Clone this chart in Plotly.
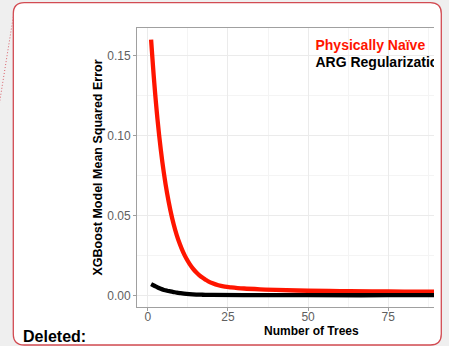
import plotly.graph_objects as go

# ---- data ----
red_trees = [1, 2, 3, 4, 5, 6, 7, 8, 9, 10, 11, 12, 13, 14, 15, 16, 17, 18, 19, 20,
             22, 24, 26, 28, 30, 35, 40, 50, 60, 70, 80, 90, 100]
red_mse = [0.160, 0.1328, 0.1102, 0.0917, 0.0765, 0.0639, 0.0536, 0.0450, 0.0379, 0.0321,
           0.0272, 0.0232, 0.0199, 0.0171, 0.0148, 0.0129, 0.0113, 0.0100, 0.0088, 0.0079,
           0.0065, 0.0057, 0.0052, 0.0048, 0.0045, 0.0040, 0.0036, 0.0031, 0.0029,
           0.0027, 0.0026, 0.0026, 0.0025]
black_trees = [1, 2, 3, 4, 5, 6, 7, 8, 9, 10, 12, 14, 17, 20, 30, 50, 75, 100]
black_mse = [0.0072, 0.0062, 0.0052, 0.0043, 0.0036, 0.0031, 0.0027, 0.0023, 0.0019,
             0.0016, 0.0011, 0.0008, 0.0006, 0.0005, 0.0004, 0.0003, 0.0003, 0.0003]
legend_labels = ["Physically Naïve", "ARG Regularizatio"]
x_ticks = [0, 25, 50, 75]
y_ticks = [0.00, 0.05, 0.10, 0.15]
y_ticklabels = ["0.00", "0.05", "0.10", "0.15"]

W, H = 449, 346
L, R, T, B = 137, 434, 28, 307
FONT = "Liberation Sans, Arial, Helvetica, sans-serif"


def px(x):
    return (x - L) / (R - L)


def py(y):
    return (B - y) / (B - T)


fig = go.Figure()
fig.add_trace(go.Scatter(x=red_trees, y=red_mse, mode="lines",
                         line=dict(color="#ff1500", width=4.3, shape="spline", smoothing=1),
                         showlegend=False))
fig.add_trace(go.Scatter(x=black_trees, y=black_mse, mode="lines",
                         line=dict(color="black", width=4.3, shape="spline", smoothing=1),
                         showlegend=False))
# legend-like labels inside the panel (clipped by the panel edge)
fig.add_trace(go.Scatter(x=[52.3, 52.3], y=[0.1556, 0.1450], mode="text",
                         text=legend_labels, textposition="middle right",
                         textfont=dict(family=FONT, size=14, color=["#ff1500", "black"],
                                       weight="bold"),
                         cliponaxis=True, showlegend=False, hoverinfo="skip"))

grid_major = "#ebebeb"
grid_minor = "#f4f4f4"
axis_col = "#a0a0a0"
fig.update_xaxes(range=[-3.4, 89.3], tickvals=x_ticks, ticktext=[str(v) for v in x_ticks],
                 showgrid=True, gridcolor=grid_major, gridwidth=1,
                 minor=dict(showgrid=True, gridcolor=grid_minor, tick0=12.5, dtick=25, ticks=""),
                 showline=True, linecolor=axis_col, linewidth=1, mirror=True,
                 ticks="outside", ticklen=3, tickcolor=axis_col, ticklabelstandoff=-4,
                 tickfont=dict(family=FONT, size=12, color="#606060"), zeroline=False)
fig.update_yaxes(range=[-0.00706, 0.1673], tickvals=y_ticks, ticktext=y_ticklabels,
                 showgrid=True, gridcolor=grid_major, gridwidth=1,
                 minor=dict(showgrid=True, gridcolor=grid_minor, tick0=0.025, dtick=0.05, ticks=""),
                 showline=True, linecolor=axis_col, linewidth=1, mirror=False,
                 ticks="outside", ticklen=3, tickcolor=axis_col,
                 tickfont=dict(family=FONT, size=12, color="#606060"), zeroline=False)

# comment box with rounded corners
x0, y0, x1, y1, r = 13.3, 2.7, 441.3, 345.0, 11
path = (f"M {px(x0 + r)} {py(y0)} L {px(x1 - r)} {py(y0)} "
        f"Q {px(x1)} {py(y0)} {px(x1)} {py(y0 + r)} "
        f"L {px(x1)} {py(y1 - r)} Q {px(x1)} {py(y1)} {px(x1 - r)} {py(y1)} "
        f"L {px(x0 + r)} {py(y1)} Q {px(x0)} {py(y1)} {px(x0)} {py(y1 - r)} "
        f"L {px(x0)} {py(y0 + r)} Q {px(x0)} {py(y0)} {px(x0 + r)} {py(y0)} Z")
fig.add_shape(type="path", path=path, xref="paper", yref="paper", layer="below",
              fillcolor="white", line=dict(color="#d24b52", width=1.3))
fig.add_shape(type="line", xref="paper", yref="paper", x0=px(13.3), y0=py(16.7),
              x1=px(-1), y1=py(106), line=dict(color="#d9606a", width=1, dash="1px,2px"))

fig.add_annotation(text="<b>Number of Trees</b>", xref="paper", yref="paper",
                   x=px(311), y=py(331), showarrow=False, xanchor="center", yanchor="middle",
                   font=dict(family=FONT, size=12, color="black"))
fig.add_annotation(text="<b>XGBoost Model Mean Squared Error</b>", xref="paper", yref="paper",
                   x=px(97), y=py(167.5), showarrow=False, textangle=-90,
                   xanchor="center", yanchor="middle",
                   font=dict(family=FONT, size=12.5, color="black"))
fig.add_annotation(text="<b>Deleted:</b>", xref="paper", yref="paper",
                   x=px(21), y=py(336.5), showarrow=False, xanchor="left", yanchor="middle",
                   font=dict(family=FONT, size=16, color="black"))

fig.update_layout(width=W, height=H, margin=dict(l=L, r=W - R, t=T, b=H - B),
                  paper_bgcolor="#efefef", plot_bgcolor="white", showlegend=False)
fig.write_html("out.html")
